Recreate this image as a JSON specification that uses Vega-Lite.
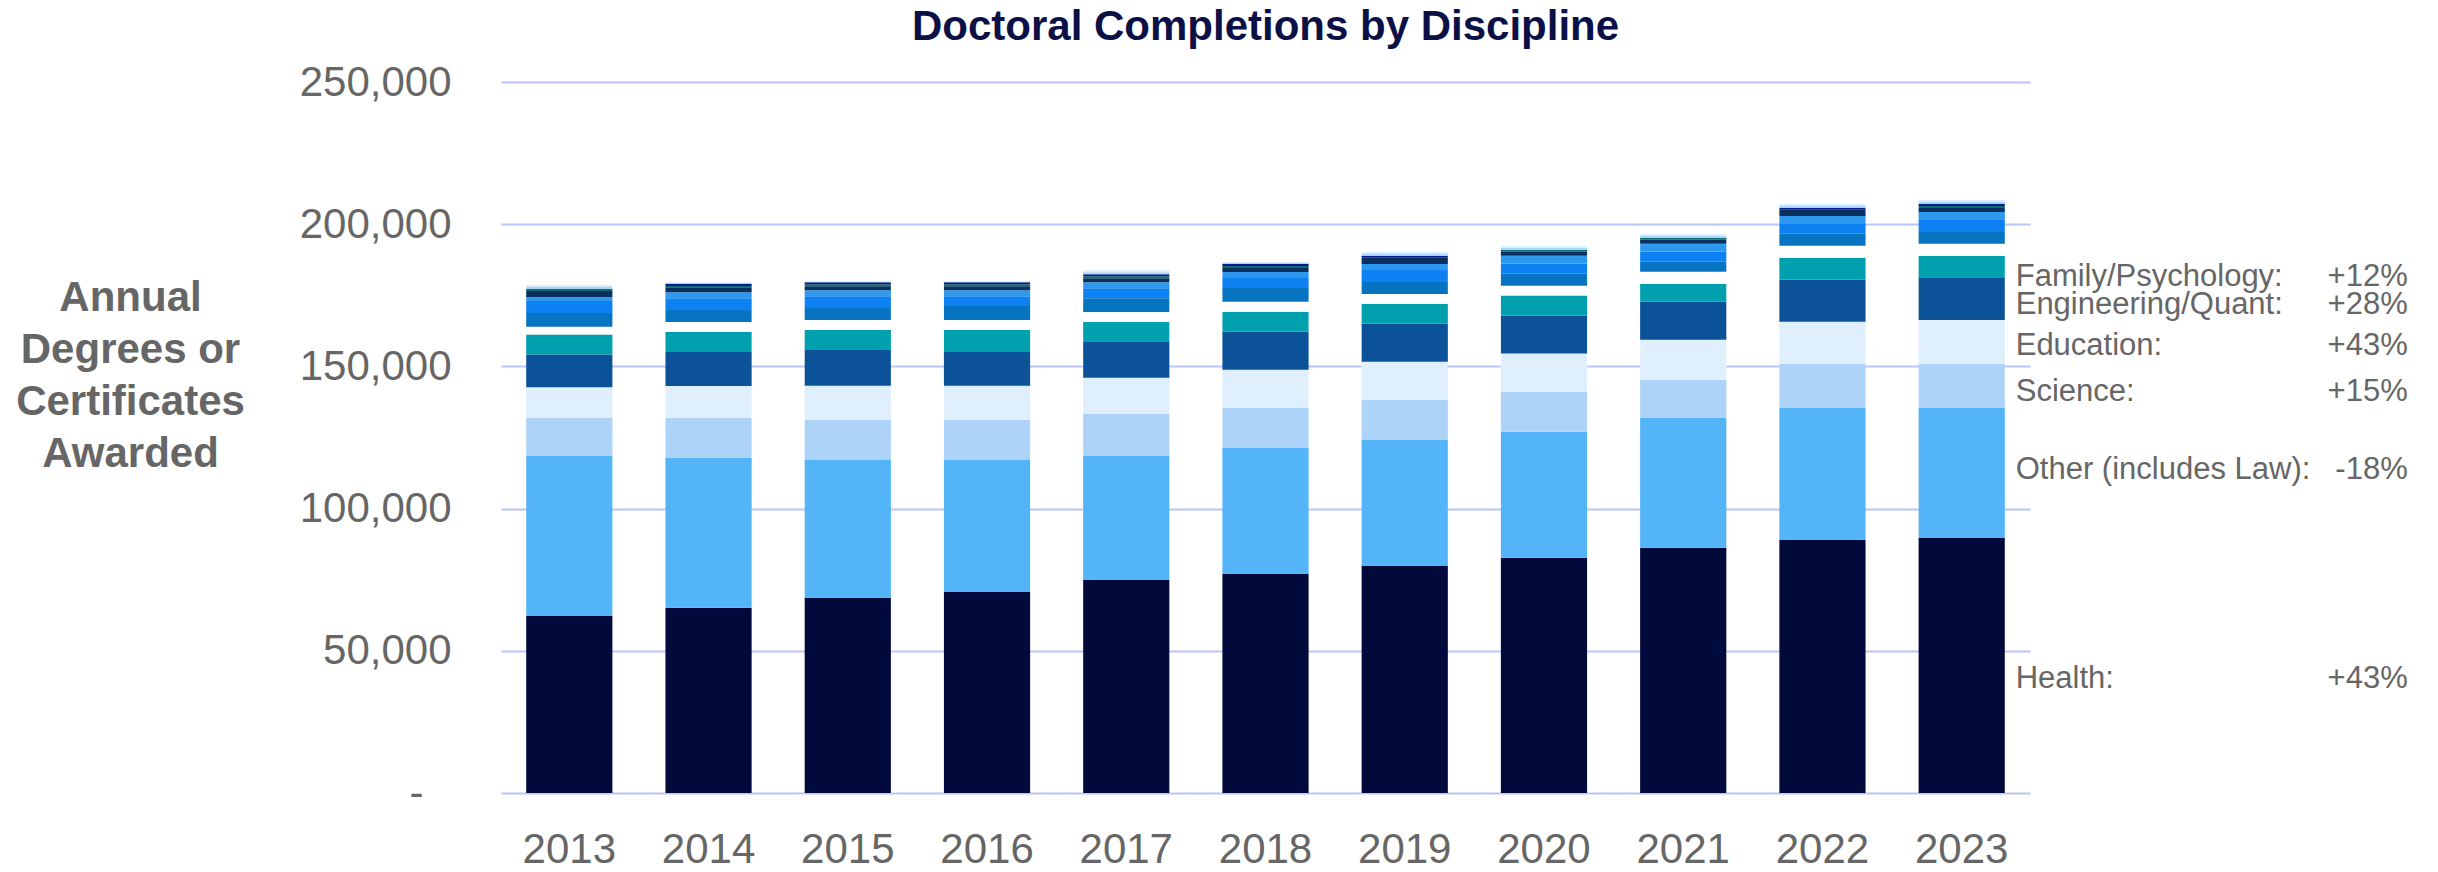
{
  "$schema": "https://vega.github.io/schema/vega-lite/v6.json",
  "width": 1529,
  "height": 711,
  "autosize": {"type": "none"},
  "padding": {"left": 501, "top": 82, "right": 408, "bottom": 79},
  "background": "white",
  "config": {"view": {"stroke": null}, "font": "Liberation Sans"},
  "title": {"text": "Doctoral Completions by Discipline", "fontSize": 42, "fontWeight": "bold", "color": "#0B1147", "font": "Liberation Sans", "anchor": "middle", "offset": 12},
  "datasets": {
    "cats": [
      {"cat": "Health", "rank": 1},
      {"cat": "Other (includes Law)", "rank": 2},
      {"cat": "Science", "rank": 3},
      {"cat": "Education", "rank": 4},
      {"cat": "Engineering/Quant", "rank": 5},
      {"cat": "Family/Psychology", "rank": 6},
      {"cat": "Unlabeled 1", "rank": 7},
      {"cat": "Unlabeled 2", "rank": 8},
      {"cat": "Unlabeled 3", "rank": 9},
      {"cat": "Unlabeled 4", "rank": 10},
      {"cat": "Unlabeled 5", "rank": 11},
      {"cat": "Unlabeled 6", "rank": 12},
      {"cat": "Unlabeled 7", "rank": 13},
      {"cat": "Unlabeled 8", "rank": 14},
      {"cat": "Unlabeled 9", "rank": 15}
    ],
    "labels": [
      {"name": "Family/Psychology:", "pct": "+12%", "pos": 181600},
      {"name": "Engineering/Quant:", "pct": "+28%", "pos": 171600},
      {"name": "Education:", "pct": "+43%", "pos": 157300},
      {"name": "Science:", "pct": "+15%", "pos": 141100},
      {"name": "Other (includes Law):", "pct": "-18%", "pos": 113400},
      {"name": "Health:", "pct": "+43%", "pos": 40100}
    ],
    "completions": [
      {"year": "2013", "cat": "Health", "v": 62250},
      {"year": "2013", "cat": "Other (includes Law)", "v": 56250},
      {"year": "2013", "cat": "Science", "v": 13400},
      {"year": "2013", "cat": "Education", "v": 10800},
      {"year": "2013", "cat": "Engineering/Quant", "v": 11500},
      {"year": "2013", "cat": "Family/Psychology", "v": 7000},
      {"year": "2013", "cat": "Unlabeled 1", "v": 2700},
      {"year": "2013", "cat": "Unlabeled 2", "v": 4900},
      {"year": "2013", "cat": "Unlabeled 3", "v": 4200},
      {"year": "2013", "cat": "Unlabeled 4", "v": 1400},
      {"year": "2013", "cat": "Unlabeled 5", "v": 2100},
      {"year": "2013", "cat": "Unlabeled 6", "v": 700},
      {"year": "2013", "cat": "Unlabeled 7", "v": 0},
      {"year": "2013", "cat": "Unlabeled 8", "v": 700},
      {"year": "2013", "cat": "Unlabeled 9", "v": 700},

      {"year": "2014", "cat": "Health", "v": 65100},
      {"year": "2014", "cat": "Other (includes Law)", "v": 52700},
      {"year": "2014", "cat": "Science", "v": 14100},
      {"year": "2014", "cat": "Education", "v": 11200},
      {"year": "2014", "cat": "Engineering/Quant", "v": 12000},
      {"year": "2014", "cat": "Family/Psychology", "v": 7000},
      {"year": "2014", "cat": "Unlabeled 1", "v": 3500},
      {"year": "2014", "cat": "Unlabeled 2", "v": 4200},
      {"year": "2014", "cat": "Unlabeled 3", "v": 4200},
      {"year": "2014", "cat": "Unlabeled 4", "v": 2100},
      {"year": "2014", "cat": "Unlabeled 5", "v": 1700},
      {"year": "2014", "cat": "Unlabeled 6", "v": 500},
      {"year": "2014", "cat": "Unlabeled 7", "v": 700},
      {"year": "2014", "cat": "Unlabeled 8", "v": 350},
      {"year": "2014", "cat": "Unlabeled 9", "v": 350},

      {"year": "2015", "cat": "Health", "v": 68600},
      {"year": "2015", "cat": "Other (includes Law)", "v": 48500},
      {"year": "2015", "cat": "Science", "v": 14100},
      {"year": "2015", "cat": "Education", "v": 12000},
      {"year": "2015", "cat": "Engineering/Quant", "v": 12600},
      {"year": "2015", "cat": "Family/Psychology", "v": 7000},
      {"year": "2015", "cat": "Unlabeled 1", "v": 3500},
      {"year": "2015", "cat": "Unlabeled 2", "v": 4200},
      {"year": "2015", "cat": "Unlabeled 3", "v": 4200},
      {"year": "2015", "cat": "Unlabeled 4", "v": 2100},
      {"year": "2015", "cat": "Unlabeled 5", "v": 1400},
      {"year": "2015", "cat": "Unlabeled 6", "v": 700},
      {"year": "2015", "cat": "Unlabeled 7", "v": 700},
      {"year": "2015", "cat": "Unlabeled 8", "v": 150},
      {"year": "2015", "cat": "Unlabeled 9", "v": 150},

      {"year": "2016", "cat": "Health", "v": 70700},
      {"year": "2016", "cat": "Other (includes Law)", "v": 46400},
      {"year": "2016", "cat": "Science", "v": 14100},
      {"year": "2016", "cat": "Education", "v": 12000},
      {"year": "2016", "cat": "Engineering/Quant", "v": 11900},
      {"year": "2016", "cat": "Family/Psychology", "v": 7700},
      {"year": "2016", "cat": "Unlabeled 1", "v": 3500},
      {"year": "2016", "cat": "Unlabeled 2", "v": 4900},
      {"year": "2016", "cat": "Unlabeled 3", "v": 3500},
      {"year": "2016", "cat": "Unlabeled 4", "v": 2100},
      {"year": "2016", "cat": "Unlabeled 5", "v": 1400},
      {"year": "2016", "cat": "Unlabeled 6", "v": 700},
      {"year": "2016", "cat": "Unlabeled 7", "v": 700},
      {"year": "2016", "cat": "Unlabeled 8", "v": 150},
      {"year": "2016", "cat": "Unlabeled 9", "v": 150},

      {"year": "2017", "cat": "Health", "v": 74900},
      {"year": "2017", "cat": "Other (includes Law)", "v": 43600},
      {"year": "2017", "cat": "Science", "v": 14800},
      {"year": "2017", "cat": "Education", "v": 12700},
      {"year": "2017", "cat": "Engineering/Quant", "v": 12600},
      {"year": "2017", "cat": "Family/Psychology", "v": 7000},
      {"year": "2017", "cat": "Unlabeled 1", "v": 3500},
      {"year": "2017", "cat": "Unlabeled 2", "v": 4900},
      {"year": "2017", "cat": "Unlabeled 3", "v": 3500},
      {"year": "2017", "cat": "Unlabeled 4", "v": 2100},
      {"year": "2017", "cat": "Unlabeled 5", "v": 1400},
      {"year": "2017", "cat": "Unlabeled 6", "v": 700},
      {"year": "2017", "cat": "Unlabeled 7", "v": 700},
      {"year": "2017", "cat": "Unlabeled 8", "v": 700},
      {"year": "2017", "cat": "Unlabeled 9", "v": 700},

      {"year": "2018", "cat": "Health", "v": 77000},
      {"year": "2018", "cat": "Other (includes Law)", "v": 44300},
      {"year": "2018", "cat": "Science", "v": 14100},
      {"year": "2018", "cat": "Education", "v": 13400},
      {"year": "2018", "cat": "Engineering/Quant", "v": 13400},
      {"year": "2018", "cat": "Family/Psychology", "v": 7000},
      {"year": "2018", "cat": "Unlabeled 1", "v": 3500},
      {"year": "2018", "cat": "Unlabeled 2", "v": 4900},
      {"year": "2018", "cat": "Unlabeled 3", "v": 3500},
      {"year": "2018", "cat": "Unlabeled 4", "v": 2100},
      {"year": "2018", "cat": "Unlabeled 5", "v": 1400},
      {"year": "2018", "cat": "Unlabeled 6", "v": 700},
      {"year": "2018", "cat": "Unlabeled 7", "v": 700},
      {"year": "2018", "cat": "Unlabeled 8", "v": 350},
      {"year": "2018", "cat": "Unlabeled 9", "v": 350},

      {"year": "2019", "cat": "Health", "v": 79800},
      {"year": "2019", "cat": "Other (includes Law)", "v": 44300},
      {"year": "2019", "cat": "Science", "v": 14100},
      {"year": "2019", "cat": "Education", "v": 13400},
      {"year": "2019", "cat": "Engineering/Quant", "v": 13400},
      {"year": "2019", "cat": "Family/Psychology", "v": 7000},
      {"year": "2019", "cat": "Unlabeled 1", "v": 3500},
      {"year": "2019", "cat": "Unlabeled 2", "v": 4200},
      {"year": "2019", "cat": "Unlabeled 3", "v": 4200},
      {"year": "2019", "cat": "Unlabeled 4", "v": 2100},
      {"year": "2019", "cat": "Unlabeled 5", "v": 2100},
      {"year": "2019", "cat": "Unlabeled 6", "v": 350},
      {"year": "2019", "cat": "Unlabeled 7", "v": 350},
      {"year": "2019", "cat": "Unlabeled 8", "v": 700},
      {"year": "2019", "cat": "Unlabeled 9", "v": 700},

      {"year": "2020", "cat": "Health", "v": 82700},
      {"year": "2020", "cat": "Other (includes Law)", "v": 44300},
      {"year": "2020", "cat": "Science", "v": 14100},
      {"year": "2020", "cat": "Education", "v": 13400},
      {"year": "2020", "cat": "Engineering/Quant", "v": 13400},
      {"year": "2020", "cat": "Family/Psychology", "v": 7000},
      {"year": "2020", "cat": "Unlabeled 1", "v": 3500},
      {"year": "2020", "cat": "Unlabeled 2", "v": 4200},
      {"year": "2020", "cat": "Unlabeled 3", "v": 3500},
      {"year": "2020", "cat": "Unlabeled 4", "v": 2800},
      {"year": "2020", "cat": "Unlabeled 5", "v": 1400},
      {"year": "2020", "cat": "Unlabeled 6", "v": 700},
      {"year": "2020", "cat": "Unlabeled 7", "v": 0},
      {"year": "2020", "cat": "Unlabeled 8", "v": 700},
      {"year": "2020", "cat": "Unlabeled 9", "v": 700},

      {"year": "2021", "cat": "Health", "v": 86200},
      {"year": "2021", "cat": "Other (includes Law)", "v": 45700},
      {"year": "2021", "cat": "Science", "v": 13400},
      {"year": "2021", "cat": "Education", "v": 14100},
      {"year": "2021", "cat": "Engineering/Quant", "v": 13400},
      {"year": "2021", "cat": "Family/Psychology", "v": 6300},
      {"year": "2021", "cat": "Unlabeled 1", "v": 4200},
      {"year": "2021", "cat": "Unlabeled 2", "v": 3500},
      {"year": "2021", "cat": "Unlabeled 3", "v": 3500},
      {"year": "2021", "cat": "Unlabeled 4", "v": 2800},
      {"year": "2021", "cat": "Unlabeled 5", "v": 1400},
      {"year": "2021", "cat": "Unlabeled 6", "v": 700},
      {"year": "2021", "cat": "Unlabeled 7", "v": 0},
      {"year": "2021", "cat": "Unlabeled 8", "v": 700},
      {"year": "2021", "cat": "Unlabeled 9", "v": 700},

      {"year": "2022", "cat": "Health", "v": 89000},
      {"year": "2022", "cat": "Other (includes Law)", "v": 46400},
      {"year": "2022", "cat": "Science", "v": 15500},
      {"year": "2022", "cat": "Education", "v": 14800},
      {"year": "2022", "cat": "Engineering/Quant", "v": 14800},
      {"year": "2022", "cat": "Family/Psychology", "v": 7700},
      {"year": "2022", "cat": "Unlabeled 1", "v": 4200},
      {"year": "2022", "cat": "Unlabeled 2", "v": 4200},
      {"year": "2022", "cat": "Unlabeled 3", "v": 3500},
      {"year": "2022", "cat": "Unlabeled 4", "v": 2800},
      {"year": "2022", "cat": "Unlabeled 5", "v": 2100},
      {"year": "2022", "cat": "Unlabeled 6", "v": 350},
      {"year": "2022", "cat": "Unlabeled 7", "v": 350},
      {"year": "2022", "cat": "Unlabeled 8", "v": 700},
      {"year": "2022", "cat": "Unlabeled 9", "v": 700},

      {"year": "2023", "cat": "Health", "v": 89700},
      {"year": "2023", "cat": "Other (includes Law)", "v": 45700},
      {"year": "2023", "cat": "Science", "v": 15500},
      {"year": "2023", "cat": "Education", "v": 15450},
      {"year": "2023", "cat": "Engineering/Quant", "v": 14700},
      {"year": "2023", "cat": "Family/Psychology", "v": 7850},
      {"year": "2023", "cat": "Unlabeled 1", "v": 4200},
      {"year": "2023", "cat": "Unlabeled 2", "v": 4200},
      {"year": "2023", "cat": "Unlabeled 3", "v": 4200},
      {"year": "2023", "cat": "Unlabeled 4", "v": 2800},
      {"year": "2023", "cat": "Unlabeled 5", "v": 1400},
      {"year": "2023", "cat": "Unlabeled 6", "v": 700},
      {"year": "2023", "cat": "Unlabeled 7", "v": 700},
      {"year": "2023", "cat": "Unlabeled 8", "v": 700},
      {"year": "2023", "cat": "Unlabeled 9", "v": 700}
    ]
  },
  "layer": [
    {
      "data": {"name": "completions"},
      "transform": [
        {"lookup": "cat", "from": {"data": {"name": "cats"}, "key": "cat", "fields": ["rank"]}}
      ],
      "mark": {"type": "bar"},
      "encoding": {
        "x": {
          "field": "year", "type": "ordinal",
          "scale": {"paddingInner": 0.381, "paddingOuter": 0.181},
          "axis": {"title": null, "domain": false, "ticks": false, "tickSize": 0, "grid": false, "labelAngle": 0, "labelFontSize": 42, "labelColor": "#666666", "labelPadding": 36, "labelFont": "Liberation Sans"}
        },
        "y": {
          "field": "v", "type": "quantitative", "stack": "zero",
          "scale": {"domain": [0, 250000], "nice": false},
          "axis": {
            "title": ["Annual", "Degrees or", "Certificates", "Awarded"],
            "titleAngle": 0, "titleFontSize": 42, "titleFontWeight": "bold", "titleColor": "#666666", "titleFont": "Liberation Sans",
            "titleX": -371, "titleY": 215, "titleAlign": "center", "titleBaseline": "middle", "titleLineHeight": 52,
            "values": [0, 50000, 100000, 150000, 200000, 250000],
            "labelExpr": "datum.value == 0 ? '-' : format(datum.value, ',')",
            "labelFontSize": 42, "labelColor": "#666666", "labelFont": "Liberation Sans",
            "labelPadding": {"condition": {"test": "datum.value == 0", "value": 78}, "value": 50},
            "ticks": false, "tickSize": 0, "domain": false,
            "grid": true, "gridColor": "#BCC5FA", "gridWidth": 2
          }
        },
        "color": {
          "field": "cat", "type": "nominal",
          "scale": {
            "domain": ["Health", "Other (includes Law)", "Science", "Education", "Engineering/Quant", "Family/Psychology", "Unlabeled 1", "Unlabeled 2", "Unlabeled 3", "Unlabeled 4", "Unlabeled 5", "Unlabeled 6", "Unlabeled 7", "Unlabeled 8", "Unlabeled 9"],
            "range": ["#010A3B", "#53B4F8", "#AED3F9", "#E0EFFC", "#0C5299", "#00A0AE", "#FFFFFF", "#0774C1", "#0D80F2", "#2E98EF", "#0A2F5C", "#0B6B6E", "#061A8C", "#A9D4F7", "#DCEEFC"]
          },
          "legend": null
        },
        "order": {"field": "rank", "type": "quantitative"}
      }
    },
    {
      "data": {"name": "labels"},
      "mark": {"type": "text", "align": "left", "baseline": "middle", "dx": 54, "fontSize": 31, "color": "#666666", "font": "Liberation Sans"},
      "encoding": {
        "x": {"datum": "2023", "type": "ordinal"},
        "y": {"field": "pos", "type": "quantitative"},
        "text": {"field": "name"}
      }
    },
    {
      "data": {"name": "labels"},
      "mark": {"type": "text", "align": "right", "baseline": "middle", "dx": 446, "fontSize": 31, "color": "#666666", "font": "Liberation Sans"},
      "encoding": {
        "x": {"datum": "2023", "type": "ordinal"},
        "y": {"field": "pos", "type": "quantitative"},
        "text": {"field": "pct"}
      }
    }
  ]
}
